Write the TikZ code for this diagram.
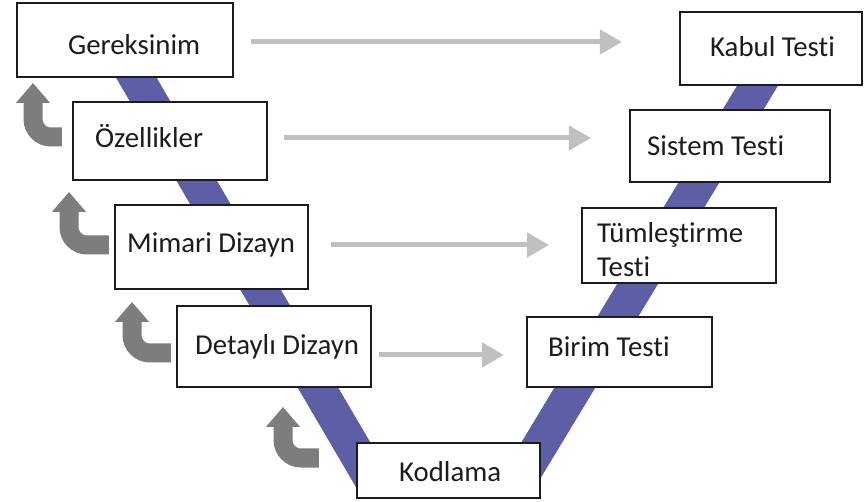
\documentclass[tikz,border=0pt]{standalone}
\usepackage{fontspec}
\setmainfont{Carlito}[Ligatures=NoCommon]
\usetikzlibrary{arrows.meta}

\definecolor{bandblue}{RGB}{94,94,166}
\definecolor{flowgray}{RGB}{192,192,192}
\definecolor{backgray}{RGB}{125,125,125}
\definecolor{inkdark}{RGB}{28,28,28}

\tikzset{
  band/.style={line width=35pt, bandblue},
  stagebox/.style={draw=inkdark, line width=2.2pt, fill=white, rectangle, inner sep=0pt},
  stagetext/.style={inner sep=0pt, anchor=base west, text=inkdark,
    font=\fontsize{28.8}{34}\selectfont, align=left},
  flow/.style={line width=5pt, flowgray, -{Triangle[width=24pt,length=22pt]}},
  backflow/.style={line width=19pt, backgray, rounded corners=18pt,
    -{Triangle[width=33pt,length=20pt]}},
}

\begin{document}
\begin{tikzpicture}[x=1pt, y=-1pt]
\useasboundingbox (0,0) rectangle (865,502);

% the two arms of the V, behind the stage boxes
\coordinate (vl-top) at (123,55);
\coordinate (vl-bot) at (375,485);
\coordinate (vr-bot) at (516,485);
\coordinate (vr-top) at (767,70);
\draw[band] (vl-top) -- (vl-bot);
\draw[band] (vr-bot) -- (vr-top);

% stage boxes
\node[stagebox, minimum width=216pt, minimum height=74pt] (ger) at (125,40) {};
\node[stagebox, minimum width=194pt, minimum height=78pt] (ozl) at (170,141) {};
\node[stagebox, minimum width=193pt, minimum height=84pt] (mim) at (211.5,247) {};
\node[stagebox, minimum width=194pt, minimum height=81pt] (det) at (274,346.5) {};
\node[stagebox, minimum width=183pt, minimum height=55pt] (kod) at (448.5,470.5) {};
\node[stagebox, minimum width=185pt, minimum height=70pt] (bir) at (619.5,352) {};
\node[stagebox, minimum width=194pt, minimum height=75pt] (tum) at (679,245.5) {};
\node[stagebox, minimum width=200pt, minimum height=72pt] (sis) at (730,146) {};
\node[stagebox, minimum width=182pt, minimum height=73pt] (kab) at (771,48.5) {};

% stage names
\node[stagetext] (ger-t) at (68,55) {Gereksinim};
\node[stagetext] (ozl-t) at (95,148) {Özellikler};
\node[stagetext] (mim-t) at (127,253) {Mimari Dizayn};
\node[stagetext] (det-t) at (195,355) {Detaylı Dizayn};
\node[stagetext] (kod-t) at (399,482) {Kodlama};
\node[stagetext] (bir-t) at (548,357) {Birim Testi};
\node[stagetext, anchor=west] (tum-t) at (597,250) {Tümleştirme\\Testi};
\node[stagetext] (sis-t) at (647,156) {Sistem Testi};
\node[stagetext] (kab-t) at (710,57) {Kabul Testi};

% each design stage points across to its test stage
\coordinate (f1) at ([yshift=-2pt]ger.east);
\coordinate (f2) at ([yshift=3pt]ozl.east);
\coordinate (f3) at ([yshift=2pt]mim.east);
\coordinate (f4) at ([yshift=-8.5pt]det.east);
\draw[flow, shorten <=17pt, shorten >=57pt] (f1) -- (f1 -| kab.west);
\draw[flow, shorten <=16pt, shorten >=38pt] (f2) -- (f2 -| sis.west);
\draw[flow, shorten <=22pt, shorten >=32pt] (f3) -- (f3 -| tum.west);
\draw[flow, shorten <=7pt, shorten >=22pt] (f4) -- (f4 -| bir.west);

% feedback arrows turning up toward the previous stage
\coordinate (b1) at ([shift={(-10pt,4pt)}]ozl.west);
\coordinate (b1-tip) at (33,83);
\coordinate (b2) at ([shift={(-5pt,2pt)}]mim.west);
\coordinate (b2-tip) at (69,192);
\coordinate (b3) at ([shift={(-5pt,-6.5pt)}]det.west);
\coordinate (b3-tip) at (132,302);
\coordinate (b4) at ([shift={(-37pt,12.5pt)}]kod.west);
\coordinate (b4-tip) at (283,407);
\draw[backflow] (b1) -| (b1-tip);
\draw[backflow] (b2) -| (b2-tip);
\draw[backflow] (b3) -| (b3-tip);
\draw[backflow] (b4) -| (b4-tip);
\end{tikzpicture}
\end{document}
